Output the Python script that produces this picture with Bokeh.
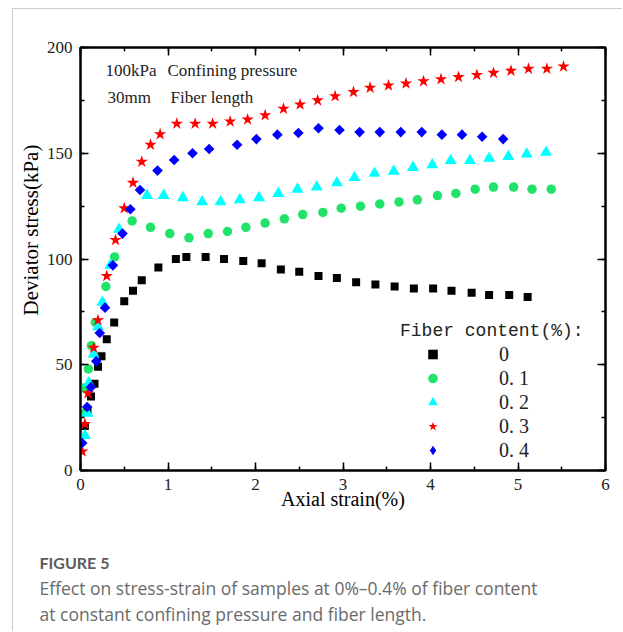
import numpy as np
from bokeh.plotting import figure
from bokeh.layouts import column
from bokeh.models import (Range1d, LinearAxis, SingleIntervalTicker, Legend, LegendItem,
                          Label, Title, CustomLabelingPolicy)
from bokeh.embed import file_html
from bokeh.resources import INLINE

# ---------------- data ----------------
series_names = ["0", "0. 1", "0. 2", "0. 3", "0. 4"]

x_0 = [0.05, 0.08, 0.12, 0.16, 0.20, 0.24, 0.30, 0.385, 0.50, 0.60, 0.70, 0.89, 1.09, 1.21,
       1.43, 1.64, 1.86, 2.07, 2.29, 2.50, 2.72, 2.93, 3.15, 3.37, 3.59, 3.81, 4.03, 4.24,
       4.47, 4.67, 4.90, 5.11]
y_0 = [21, 28, 35, 41, 49, 54, 62, 70, 80, 85, 90, 96, 100, 101,
       101, 100, 99, 98, 95, 94, 92, 91, 89, 88, 87, 86, 86, 85,
       84, 83, 83, 82]

x_01 = [0.01, 0.04, 0.09, 0.125, 0.17, 0.29, 0.39, 0.59, 0.80, 1.02, 1.24, 1.46, 1.68, 1.89,
        2.11, 2.33, 2.54, 2.77, 2.98, 3.20, 3.42, 3.64, 3.85, 4.08, 4.29, 4.51, 4.72, 4.95,
        5.16, 5.38]
y_01 = [27, 39, 48, 59, 70, 87, 101, 118, 115, 112, 110, 112, 113, 115,
        117, 119, 121, 122, 124, 125, 126, 127, 128, 130, 131, 133, 134, 134,
        133, 133]

x_02 = [0.05, 0.08, 0.095, 0.15, 0.20, 0.25, 0.34, 0.44, 0.76, 0.95, 1.17, 1.39, 1.60, 1.82,
        2.04, 2.26, 2.48, 2.70, 2.93, 3.13, 3.36, 3.58, 3.80, 4.02, 4.23, 4.45, 4.67, 4.89,
        5.10, 5.32]
y_02 = [16.5, 27, 41.5, 55, 68, 79.5, 97, 114, 130, 130, 129, 127, 127, 128,
        129, 131, 133, 134, 136, 138.5, 140.5, 141.5, 143.3, 144.5, 146.5, 146.5, 147.6, 148.5,
        149.6, 150.4]

x_03 = [0.02, 0.05, 0.085, 0.15, 0.20, 0.30, 0.40, 0.50, 0.60, 0.70, 0.80, 0.91, 1.10, 1.31,
        1.51, 1.71, 1.91, 2.11, 2.32, 2.51, 2.71, 2.91, 3.12, 3.31, 3.52, 3.72, 3.92, 4.12,
        4.32, 4.53, 4.72, 4.92, 5.12, 5.33, 5.52]
y_03 = [9, 22, 36.5, 58, 71, 92, 109, 124, 136, 146, 154, 159, 164, 164,
        164, 165, 166, 168, 171, 173, 175, 177, 179, 181, 182, 183, 184, 185,
        186, 187, 188, 189, 190, 190, 191]

x_04 = [0.02, 0.076, 0.12, 0.18, 0.22, 0.28, 0.37, 0.48, 0.57, 0.68, 0.88, 1.07, 1.28, 1.47,
        1.79, 2.01, 2.25, 2.49, 2.72, 2.96, 3.19, 3.42, 3.66, 3.90, 4.13, 4.36, 4.59, 4.83]
y_04 = [13, 30, 39.4, 51.7, 65, 77, 97, 112, 123.5, 132.6, 141.8, 146.8, 150, 152,
        154, 156.7, 158.8, 159.6, 161.8, 161, 160, 160, 160, 160, 158.8, 158.8, 157.8, 156.7]

x_ticks_interval = 1
y_ticks_interval = 50

SERIF = "Liberation Serif"

p = figure(width=610, height=512, output_backend="svg", toolbar_location=None,
           x_range=Range1d(0, 6), y_range=Range1d(0, 200),
           min_border_left=67, min_border_right=18, min_border_top=38, min_border_bottom=51,
           background_fill_color="white", border_fill_color="white")
p.grid.visible = False
p.outline_line_color = "black"
p.outline_line_width = 2

def style_axis(ax, labels=True):
    ax.axis_line_width = 2
    ax.axis_line_color = "black"
    ax.major_tick_in = 8
    ax.major_tick_out = 0
    ax.minor_tick_in = 4
    ax.minor_tick_out = 0
    ax.major_tick_line_width = 1.5
    ax.minor_tick_line_width = 1.5
    ax.major_tick_line_color = "black"
    ax.minor_tick_line_color = "black"
    if labels:
        ax.major_label_text_font = SERIF
        ax.major_label_text_font_size = "17px"
        ax.major_label_text_color = "#222222"
        ax.major_label_standoff = 8
    else:
        ax.major_label_policy = CustomLabelingPolicy(code="return []")
        ax.major_label_text_font_size = "0px"
        ax.major_label_standoff = 0

xb = p.xaxis[0]
xb.ticker = SingleIntervalTicker(interval=x_ticks_interval, num_minor_ticks=2)
style_axis(xb)
xb.axis_label = "Axial strain(%)"
xb.axis_label_text_font = SERIF
xb.axis_label_text_font_size = "20px"
xb.axis_label_text_font_style = "normal"
xb.axis_label_text_color = "black"
xb.axis_label_standoff = -5

yl = p.yaxis[0]
yl.ticker = SingleIntervalTicker(interval=y_ticks_interval, num_minor_ticks=2)
style_axis(yl)

xt = LinearAxis(ticker=SingleIntervalTicker(interval=x_ticks_interval, num_minor_ticks=2))
style_axis(xt, labels=False)
p.add_layout(xt, "above")
yr = LinearAxis(ticker=SingleIntervalTicker(interval=y_ticks_interval, num_minor_ticks=2))
style_axis(yr, labels=False)
p.add_layout(yr, "right")

# y axis title (sits above centre, as in the reference)
p.add_layout(Title(text="Deviator stress(kPa)", align="left", offset=155, standoff=0,
                   vertical_align="middle",
                   text_font=SERIF, text_font_size="21px", text_font_style="normal",
                   text_color="black"), "left")

# series
r0 = p.scatter(x_0, y_0, marker="square", size=8, fill_color="black", line_color=None)
r1 = p.scatter(x_01, y_01, marker="circle", size=9.5, fill_color="#22e36a", line_color=None)
r2 = p.scatter(x_02, y_02, marker="triangle", size=12, fill_color="#00ffff", line_color=None)
r3 = p.scatter(x_03, y_03, marker="star", size=13, fill_color="#ff0000", line_color=None)
r4 = p.scatter(x_04, y_04, marker="square", angle=np.pi / 4, size=7.5, fill_color="#0000ff",
               line_color=None)
# hidden copy of the 0.4 series, used only for its diamond legend swatch
r4_key = p.scatter(x_04, y_04, marker="diamond", size=12, fill_color="#0000ff",
                   line_color=None, visible=False)

legend = Legend(items=[LegendItem(label=n, renderers=[r]) for n, r in
                       zip(series_names, [r0, r1, r2, r3, r4_key])],
                location=(320, 8), title="Fiber content(%):",
                title_text_font="Liberation Mono", title_text_font_size="18px",
                title_text_font_style="normal", title_text_color="#222222",
                title_standoff=1,
                label_text_font=SERIF, label_text_font_size="20px", label_text_color="#222222",
                glyph_width=65, glyph_height=24, label_standoff=34, label_height=24,
                spacing=0, padding=0, margin=0, click_policy="none",
                inactive_fill_alpha=0,
                border_line_color=None, background_fill_alpha=0)
p.add_layout(legend, "center")

# annotation text in the upper left
for txt, sx, sy in [("100kPa", 25, 400), ("Confining pressure", 87, 400),
                    ("30mm", 27, 373), ("Fiber length", 90, 373)]:
    p.add_layout(Label(x=sx, y=sy, x_units="screen", y_units="screen", text=txt,
                       text_baseline="middle", text_font=SERIF, text_font_size="17px",
                       text_color="#222222"))

# caption below the chart (titles stacked above a tiny empty frame)
cap = figure(width=610, height=111, output_backend="svg", toolbar_location=None,
             x_axis_location=None, y_axis_location=None,
             min_border_left=67, min_border_right=18, min_border_bottom=0, min_border_top=104,
             x_range=Range1d(0, 1), y_range=Range1d(0, 1),
             outline_line_color=None, background_fill_color="white", border_fill_color="white")
cap.grid.visible = False
cap_lines = [("at constant confining pressure and fiber length.", "Open Sans", "normal", "17.5px", "#6a6a6a", 0),
             ("Effect on stress-strain of samples at 0%\u20130.4% of fiber content", "Open Sans", "normal", "17.5px", "#6a6a6a", 0),
             ("FIGURE 5", "Lato", "bold", "16px", "#5a5a5a", 4)]
for txt, fnt, sty, fs, col, so in cap_lines:
    cap.add_layout(Title(text=txt, align="left", offset=-41, standoff=so,
                         text_font=fnt, text_font_style=sty, text_font_size=fs,
                         text_color=col), "above")

root = column(p, cap, spacing=0,
              styles={"margin-left": "13px", "margin-top": "9px",
                      "box-shadow": "-1px -1px 0px 0px #cccccc"})

open("out.html", "w").write(file_html(root, INLINE))
